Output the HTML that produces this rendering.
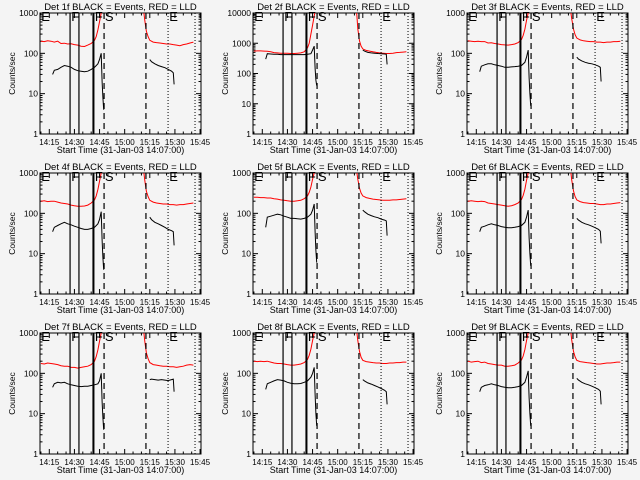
<!DOCTYPE html>
<html><head><meta charset="utf-8"><style>
html,body{margin:0;padding:0;background:#f4f4f4}
svg{display:block;font-family:"Liberation Sans",sans-serif}
</style></head><body>
<svg id="c" width="640" height="480" viewBox="0 0 640 480"></svg>
<script>
const detNames=["1f","2f","3f","4f","5f","6f","7f","8f","9f"];
const decades=[3,4,3,3,3,3,3,3,3];
const tickLabels3=["1","10","100","1000"];
const tickLabels4=["1","10","100","1000","10000"];
const xTickTimes=[15,30,45,60,75,90,105];
const xTickLabels=["14:15","14:30","14:45","15:00","15:15","15:30","15:45"];
const solidLines=[27.4,32.7,41.1,41.6];
const dashedLines=[47.7,72.7];
const dottedLines=[85.9,102];
const markLetters=["E","F","F","S","E"];
const markTimes=[9.9,27.8,41.9,47.9,86.3];
const tPre=[10,12,14,16,18,20,22,24,26,28,30,32,34,36,38,40,42,43,44,45,46,47];
const tPost=[71,71.5,72,73,74,75,77,79,81,83,85,87,89,91,93,95,97,99,101];
const tBPre=[17,18,20,22,24,26,28,30,32,34,36,38,40,42,44,45,46,46.5,47,47.5];
const tBPost=[75,76,78,80,82,84,86,88,89,89.5];
const redPre=[
[200,195,205,200,190,200,175,178,170,172,165,160,150,148,160,175,210,260,380,600,1000,1500],
[550,560,560,550,540,520,490,480,470,470,465,460,460,470,480,520,700,1000,2000,4000,8000,15000],
[205,200,195,200,195,195,180,182,175,170,165,162,160,165,170,185,220,280,400,650,1000,1500],
[200,205,195,200,200,190,180,175,170,160,155,150,150,152,160,180,215,270,390,620,1000,1500],
[250,250,245,245,240,240,230,225,215,210,205,200,200,205,210,230,270,330,450,700,1000,1500],
[200,205,200,195,200,195,180,175,170,165,160,155,150,155,165,180,220,280,400,650,1000,1500],
[175,170,180,175,170,165,155,150,150,140,140,135,140,145,150,165,200,260,380,620,1000,1500],
[200,195,200,195,200,190,180,175,175,170,165,160,160,165,170,185,220,280,400,650,1000,1500],
[200,190,195,200,185,190,175,170,165,160,160,150,150,155,160,180,215,270,390,640,1000,1500]];
const redPost=[
[1500,1000,650,350,260,210,190,185,180,175,170,170,165,160,155,165,170,180,190],
[15000,8000,3000,1200,800,650,580,550,520,500,480,470,460,460,470,490,500,510,520],
[1500,1000,700,400,290,240,215,205,200,195,195,190,190,185,190,190,195,195,200],
[1500,1000,650,350,260,210,190,180,175,170,170,165,165,160,165,165,170,175,180],
[1500,1000,700,420,320,270,245,235,225,220,215,210,210,210,215,215,220,225,230],
[1500,1000,650,360,260,215,195,185,180,175,175,170,165,165,170,170,175,180,185],
[1500,1000,620,320,230,185,165,160,155,150,150,145,145,140,145,150,160,165,160],
[1500,1000,650,350,250,210,195,190,185,180,180,175,175,180,180,185,185,190,190],
[1500,1000,650,350,255,210,195,190,185,180,175,170,170,175,180,180,185,190,190]];
const blkPre=[
[30,38,40,45,50,48,45,40,37,36,35,36,40,45,55,70,100,20,8,4],
[300,450,440,430,430,420,420,420,420,420,420,420,420,430,450,600,800,150,60,40],
[35,48,52,55,55,52,50,48,45,45,46,47,48,50,60,80,120,25,10,5],
[35,45,50,55,60,55,52,48,45,42,40,40,42,45,55,70,110,22,8,4],
[45,80,85,90,95,92,85,80,75,75,73,72,75,80,95,120,170,35,12,6],
[35,45,48,52,55,52,50,47,45,44,44,45,47,50,60,80,120,25,10,5],
[45,55,60,58,60,55,52,50,48,47,48,48,50,52,55,65,100,20,8,4],
[40,55,60,65,70,68,65,60,57,55,55,56,60,65,80,100,140,30,10,5],
[35,45,50,52,55,52,50,47,45,44,44,45,47,50,60,80,115,25,10,5]];
const blkPost=[
[70,62,55,50,47,44,40,36,33,17],
[600,550,500,480,470,460,450,440,430,200],
[80,72,65,60,57,55,52,48,45,20],
[80,70,60,55,50,45,40,37,35,16],
[120,110,95,88,82,78,72,68,65,28],
[75,68,60,55,52,48,44,40,36,18],
[70,72,70,68,70,68,66,70,72,35],
[70,65,58,54,50,46,42,38,35,17],
[75,68,60,55,52,48,44,40,36,17]];

const NS="http://www.w3.org/2000/svg";
const svg=document.getElementById('c');
function mk(tag,attrs,parent){const e=document.createElementNS(NS,tag);for(const k in attrs)e.setAttribute(k,attrs[k]);(parent||svg).appendChild(e);return e;}
const cols=[0,213,427], rows=[0,160,320];
for(let p=0;p<9;p++){
  const ox=cols[p%3], oy=rows[Math.floor(p/3)];
  const L=ox+40,R=ox+201,T=oy+13,B=oy+134;
  const dec=decades[p];
  const xT=t=>L+9.3+(t-15)*1.675;
  const yV=v=>B-Math.log10(v)*((B-T)/dec);
  const g=mk('g',{});
  
  
  const cp=mk('clipPath',{id:'cp'+p},g);
  mk('rect',{x:L,y:T,width:R-L,height:B-T},cp);
  const title=mk('text',{x:(L+R)/2,y:oy+10,'font-size':9.5,'text-anchor':'middle',fill:'#000'},g);
  title.textContent='Det '+detNames[p]+' BLACK = Events, RED = LLD';
  
  
  const yl=mk('text',{x:0,y:0,'font-size':8.5,'text-anchor':'middle',transform:`translate(${ox+15},${(T+B)/2}) rotate(-90)`},g);
  yl.textContent='Counts/sec';
  
  
  const xl=mk('text',{x:(L+R)/2,y:oy+153,'font-size':9,'text-anchor':'middle'},g);
  xl.textContent='Start Time (31-Jan-03 14:07:00)';
  
  
  const ax=mk('rect',{x:L,y:T,width:R-L,height:B-T,fill:'none',stroke:'#000','stroke-width':1},g);
  
  
  const labs=dec===4?tickLabels4:tickLabels3;
  for(let d=0;d<=dec;d++){
    const y=yV(Math.pow(10,d));
    mk('line',{x1:L,x2:L+5,y1:y,y2:y,stroke:'#000'},g);
    mk('line',{x1:R-5,x2:R,y1:y,y2:y,stroke:'#000'},g);
    const tl=mk('text',{x:L-2,y:y+3,'font-size':8.5,'text-anchor':'end'},g);
    tl.textContent=labs[d];
    
    
    if(d<dec)for(let m=2;m<10;m++){const ym=yV(m*Math.pow(10,d));
      mk('line',{x1:L,x2:L+2.5,y1:ym,y2:ym,stroke:'#000'},g);
      mk('line',{x1:R-2.5,x2:R,y1:ym,y2:ym,stroke:'#000'},g);}
  }
  for(let t=10;t<=105;t+=5){const x=xT(t);if(x<L||x>R)continue;
    const len=(t%15===0)?5:2.5;
    mk('line',{x1:x,x2:x,y1:B,y2:B-len,stroke:'#000'},g);
    mk('line',{x1:x,x2:x,y1:T,y2:T+len,stroke:'#000'},g);}
  xTickTimes.forEach((t,i)=>{const tl=mk('text',{x:xT(t),y:oy+145,'font-size':8,'text-anchor':'middle'},g);
    tl.textContent=xTickLabels[i];
    
    });
  const cg=mk('g',{'clip-path':`url(#cp${p})`},g);
  const line=(ts,vs,col,name)=>{const pl=mk('polyline',{points:ts.map((t,i)=>xT(t).toFixed(1)+','+yV(vs[i]).toFixed(1)).join(' '),fill:'none',stroke:col,'stroke-width':1},cg);
    
    };
  line(tPre,redPre[p],'#ff0000','lld-series-pre');
  line(tPost,redPost[p],'#ff0000','lld-series-post');
  line(tBPre,blkPre[p],'#000','events-series-pre');
  line(tBPost,blkPost[p],'#000','events-series-post');
  solidLines.forEach(t=>{const l=mk('line',{x1:xT(t),x2:xT(t),y1:T,y2:B,stroke:'#000','stroke-width':1.2},g);
    
    });
  dashedLines.forEach(t=>{const l=mk('line',{x1:xT(t),x2:xT(t),y1:T,y2:B,stroke:'#000','stroke-width':1.2,'stroke-dasharray':'6,4'},g);
    
    });
  dottedLines.forEach(t=>{const l=mk('line',{x1:xT(t),x2:xT(t),y1:T,y2:B,stroke:'#000','stroke-dasharray':'1,2'},g);
    
    });
  markLetters.forEach((s,i)=>{const tx=mk('text',{x:xT(markTimes[i])+0.5,y:T+8,'font-size':13,fill:'#000'},g);
    tx.textContent=s;
    
    });
}
</script>
</body></html>
